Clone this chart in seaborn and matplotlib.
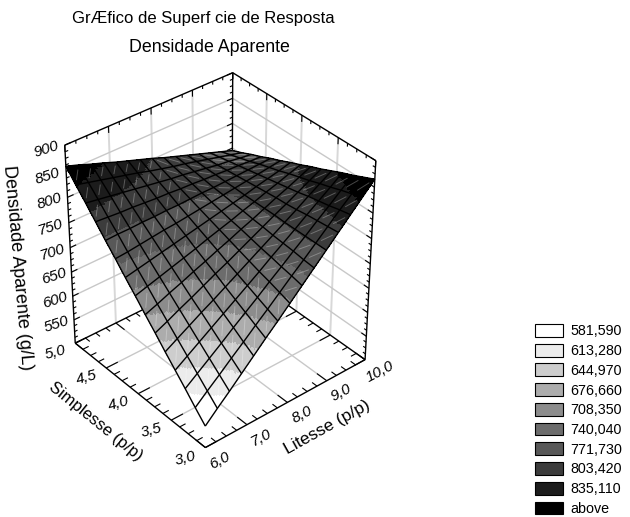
"""Response surface of bulk density against Litesse and Simplesse."""

import matplotlib

matplotlib.use("Agg")
import matplotlib.pyplot as plt
import numpy as np
import seaborn as sns
from matplotlib.patches import Patch
from mpl_toolkits.mplot3d import proj3d

FIG_W, FIG_H = 630, 517

TITLE_LINE_1 = "GrÆfico de Superf cie de Resposta"
TITLE_LINE_2 = "Densidade Aparente"
X_LABEL = "Litesse (p/p)"
Y_LABEL = "Simplesse (p/p)"
Z_LABEL = "Densidade Aparente (g/L)"

LITESSE_MIN, LITESSE_MAX, SIMPLESSE_MIN, SIMPLESSE_MAX = 6.0, 10.0, 3.0, 5.0
N_NODES = 15
# one row per Simplesse step, one column per Litesse step
DENSITY = [
    [545, 568, 590, 613, 636, 659, 681, 704, 727, 750, 773, 796, 819, 842, 865],
    [567, 588, 608, 629, 649, 670, 690, 711, 732, 752, 773, 794, 815, 835, 856],
    [590, 608, 626, 644, 663, 681, 699, 718, 736, 755, 773, 792, 810, 829, 847],
    [612, 628, 644, 660, 676, 692, 708, 724, 741, 757, 773, 790, 806, 822, 839],
    [634, 648, 662, 676, 689, 703, 717, 731, 745, 759, 773, 787, 802, 816, 830],
    [657, 668, 680, 691, 703, 715, 726, 738, 750, 762, 774, 785, 797, 809, 821],
    [679, 688, 698, 707, 717, 726, 736, 745, 755, 764, 774, 784, 793, 803, 813],
    [702, 709, 716, 723, 730, 737, 745, 752, 759, 767, 774, 782, 789, 797, 804],
    [724, 729, 734, 739, 744, 749, 754, 759, 764, 769, 774, 780, 785, 790, 796],
    [747, 749, 752, 755, 758, 760, 763, 766, 769, 772, 775, 778, 781, 784, 787],
    [769, 770, 770, 771, 771, 772, 772, 773, 774, 774, 775, 776, 777, 778, 779],
    [792, 790, 788, 787, 785, 783, 782, 780, 779, 777, 776, 774, 773, 771, 770],
    [815, 811, 807, 803, 799, 795, 791, 787, 784, 780, 776, 772, 769, 765, 762],
    [837, 831, 825, 819, 813, 807, 800, 794, 788, 783, 777, 771, 765, 759, 753],
    [860, 852, 843, 835, 826, 818, 810, 802, 793, 785, 777, 769, 761, 753, 745],
]

LEVELS = [581.59, 613.28, 644.97, 676.66, 708.35, 740.04, 771.73, 803.42, 835.11]
LEVEL_LABELS = ["581,590", "613,280", "644,970", "676,660", "708,350", "740,040",
                "771,730", "803,420", "835,110", "above"]
BAND_COLORS = ["#ffffff", "#ececec", "#cdcdcd", "#acacac", "#8c8c8c",
               "#6c6c6c", "#585858", "#3c3c3c", "#1c1c1c", "#000000"]

X_TICKS = [6, 7, 8, 9, 10]
X_TICK_LABELS = ["6,0", "7,0", "8,0", "9,0", "10,0"]
Y_TICKS = [3, 3.5, 4, 4.5, 5]
Y_TICK_LABELS = ["3,0", "3,5", "4,0", "4,5", "5,0"]
Z_TICKS = [500, 550, 600, 650, 700, 750, 800, 850, 900]
Z_TICK_LABELS = ["", "550", "600", "650", "700", "750", "800", "850", "900"]

GRID_COLOR = "#c8c8c8"
GRID_VERTICAL_COLOR = "#d8d8d8"


def refine(values, factor):
    """Bilinear fill between mesh nodes, only used to paint the colour bands."""
    values = np.asarray(values, float)
    n_rows, n_cols = values.shape
    rows = np.linspace(0, n_rows - 1, (n_rows - 1) * factor + 1)
    cols = np.linspace(0, n_cols - 1, (n_cols - 1) * factor + 1)
    by_col = np.array([np.interp(rows, np.arange(n_rows), values[:, c]) for c in range(n_cols)]).T
    return np.array([np.interp(cols, np.arange(n_cols), r) for r in by_col])


def line(ax, xs, ys, zs, color="black", lw=1.0, zorder=3, **kwargs):
    ax.plot(xs, ys, zs, color=color, lw=lw, zorder=zorder, clip_on=False,
            solid_capstyle="butt", **kwargs)


def draw_box(ax):
    x0, x1 = LITESSE_MIN, LITESSE_MAX
    y0, y1 = SIMPLESSE_MIN, SIMPLESSE_MAX
    z0, z1 = Z_TICKS[0], Z_TICKS[-1]

    # light grid on the floor and the two back walls
    for x in X_TICKS[1:-1]:
        line(ax, [x, x], [y0, y1], [z0, z0], GRID_COLOR, 1.0, 1)
        line(ax, [x, x], [y1, y1], [z0, z1], GRID_VERTICAL_COLOR, 1.4, 1)
    for y in Y_TICKS[1:-1]:
        line(ax, [x0, x1], [y, y], [z0, z0], GRID_COLOR, 1.0, 1)
        line(ax, [x1, x1], [y, y], [z0, z1], GRID_VERTICAL_COLOR, 1.4, 1)
    for z in Z_TICKS[1:-1]:
        line(ax, [x0, x1], [y1, y1], [z, z], GRID_COLOR, 1.0, 1)
        line(ax, [x1, x1], [y0, y1], [z, z], GRID_COLOR, 1.0, 1)

    # box outline
    line(ax, [x0, x1], [y1, y1], [z1, z1])
    line(ax, [x1, x1], [y0, y1], [z1, z1])
    line(ax, [x0, x0], [y1, y1], [z0, z1])
    line(ax, [x1, x1], [y0, y0], [z0, z1])
    line(ax, [x1, x1], [y1, y1], [z0, z1])
    line(ax, [x0, x1], [y0, y0], [z0, z0])
    line(ax, [x0, x0], [y0, y1], [z0, z0])
    line(ax, [x0, x1], [y1, y1], [z0, z0])
    line(ax, [x1, x1], [y0, y1], [z0, z0])

    # ticks: three minor ones between each pair of major ones
    for i, x in enumerate(np.linspace(x0, x1, 17)):
        size = 0.14 if i % 4 == 0 else 0.07
        line(ax, [x, x], [y0, y0 + size], [z0, z0], lw=0.8)
        line(ax, [x, x], [y1, y1 - size], [z0, z0], lw=0.8)
        line(ax, [x, x], [y1, y1], [z1, z1 - size * 90], lw=0.8)
    for i, y in enumerate(np.linspace(y0, y1, 17)):
        size = 0.28 if i % 4 == 0 else 0.14
        line(ax, [x0, x0 + size], [y, y], [z0, z0], lw=0.8)
        line(ax, [x1, x1 - size], [y, y], [z0, z0], lw=0.8)
        line(ax, [x1, x1], [y, y], [z1, z1 - size * 45], lw=0.8)
    for i, z in enumerate(np.linspace(z0, z1, 33)):
        size = 0.14 if i % 4 == 0 else 0.07
        line(ax, [x0, x0 + size], [y1, y1], [z, z], lw=0.8)
        line(ax, [x1, x1], [y0, y0 + size / 2], [z, z], lw=0.8)
        line(ax, [x1 - size, x1], [y1, y1], [z, z], lw=0.8)


def draw_surface(ax, xs, ys, density):
    factor = 8
    z_fine = refine(density, factor)
    x_fine = np.linspace(xs[0], xs[-1], z_fine.shape[1])
    y_fine = np.linspace(ys[0], ys[-1], z_fine.shape[0])
    grid_x, grid_y = np.meshgrid(x_fine, y_fine)

    centers = (z_fine[:-1, :-1] + z_fine[1:, :-1] + z_fine[:-1, 1:] + z_fine[1:, 1:]) / 4
    palette = np.array(sns.color_palette(BAND_COLORS))
    face = palette[np.digitize(centers, LEVELS)]
    ax.plot_surface(grid_x, grid_y, z_fine, facecolors=face, rstride=1, cstride=1,
                    shade=False, linewidth=0, antialiased=False, zorder=4)

    # the renderer leaves a pale seam along one diagonal of every cell,
    # the diagonal flips half way along Litesse
    seam_x, seam_y, seam_z = [], [], []
    for r in range(N_NODES - 1):
        for c in range(N_NODES - 1):
            flip = xs[c] >= 8
            start, end = (r + 1, r) if flip else (r, r + 1)
            for t in (0.25, 0.75):
                seam_x.append(xs[c] + t * (xs[c + 1] - xs[c]))
                seam_y.append(ys[start] + t * (ys[end] - ys[start]))
                seam_z.append(density[start, c] + t * (density[end, c + 1] - density[start, c]))
            seam_x.append(np.nan)
            seam_y.append(np.nan)
            seam_z.append(np.nan)
    ax.plot(seam_x, seam_y, seam_z, color="white", lw=0.7, alpha=0.28, zorder=5, clip_on=False)

    mesh_x, mesh_y = np.meshgrid(xs, ys)
    ax.plot_wireframe(mesh_x, mesh_y, density, rstride=1, cstride=1, color="black",
                      linewidth=1.0, zorder=6)


def place(ax, x, y, z, text, **kwargs):
    # Text3D throws rotation away, so project the anchor and write plain 2D text
    sx, sy, _ = proj3d.proj_transform(x, y, z, ax.get_proj())
    ax.text2D(sx, sy, text, transform=ax.transData, ha="center", va="center", clip_on=False,
              **kwargs)


def draw_labels(ax):
    for x, label in zip(X_TICKS, X_TICK_LABELS):
        place(ax, x - 0.03, 2.78, 500, label, fontsize=11, rotation=28, style="italic")
    for y, label in zip(Y_TICKS, Y_TICK_LABELS):
        place(ax, 5.53, y, 500, label, fontsize=11, rotation=15, style="italic")
    for z, label in zip(Z_TICKS, Z_TICK_LABELS):
        place(ax, 5.75, 5.12, z - 10, label, fontsize=11, rotation=18, style="italic")
    place(ax, 8.1, 2.50, 500, X_LABEL, fontsize=12.5, rotation=29)
    place(ax, 4.9, 3.94, 500, Y_LABEL, fontsize=12, rotation=-39)


def main():
    sns.set_theme(style="white", rc={"text.color": "black"})
    plt.rcParams["font.family"] = ["Liberation Sans", "DejaVu Sans"]

    xs = np.linspace(LITESSE_MIN, LITESSE_MAX, N_NODES)
    ys = np.linspace(SIMPLESSE_MIN, SIMPLESSE_MAX, N_NODES)
    density = np.array(DENSITY, float)

    fig = plt.figure(figsize=(FIG_W / 100, FIG_H / 100), dpi=100)
    ax = fig.add_axes([25.8 / FIG_W, 67.8 / FIG_H, 377 / FIG_W, 377 / FIG_H], projection="3d",
                      computed_zorder=False)
    ax.set_xlim(LITESSE_MIN, LITESSE_MAX, view_margin=0)
    ax.set_ylim(SIMPLESSE_MIN, SIMPLESSE_MAX, view_margin=0)
    ax.set_zlim(Z_TICKS[0], Z_TICKS[-1], view_margin=0)
    ax.view_init(36.0, -129.8)
    ax.set_proj_type("persp", focal_length=1.0)
    ax.set_box_aspect((1, 1, 1.15))
    ax.set_axis_off()

    draw_box(ax)
    draw_surface(ax, xs, ys, density)
    draw_labels(ax)

    fig.text(203 / FIG_W, 1 - 18 / FIG_H, TITLE_LINE_1, fontsize=12, ha="center", va="center")
    fig.text(209 / FIG_W, 1 - 47 / FIG_H, TITLE_LINE_2, fontsize=12.8, ha="center", va="center")
    fig.text(17 / FIG_W, 1 - 268 / FIG_H, Z_LABEL, fontsize=13, rotation=-85,
             ha="center", va="center")

    handles = [Patch(facecolor=c, edgecolor="black", linewidth=0.8, label=t)
               for c, t in zip(BAND_COLORS, LEVEL_LABELS)]
    fig.legend(handles=handles, loc="upper left", bbox_to_anchor=(535 / FIG_W, 1 - 324 / FIG_H),
               frameon=False, fontsize=10.3, handlelength=1.96, handleheight=1.0,
               labelspacing=0.38, handletextpad=0.5, borderpad=0, borderaxespad=0)

    fig.savefig("out.png", dpi=100)


if __name__ == "__main__":
    main()
